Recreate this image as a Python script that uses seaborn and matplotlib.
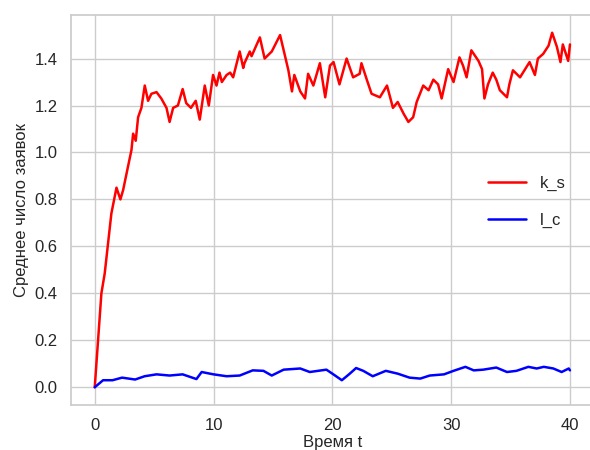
import matplotlib
matplotlib.use("Agg")
import matplotlib.pyplot as plt
import seaborn as sns
import pandas as pd

t_ks = [0, 0.56, 0.84, 1.4, 1.83, 2.16, 2.39, 2.8, 3.09, 3.23, 3.45, 3.65, 3.93, 4.21, 4.49, 4.77,
        5.2, 5.6, 6.04, 6.3, 6.6, 7.0, 7.4, 7.7, 8.1, 8.5, 8.84, 9.26, 9.6, 9.96, 10.25, 10.5,
        10.7, 11.1, 11.4, 11.65, 12.2, 12.5, 12.6, 13.05, 13.2, 13.9, 14.3, 14.9, 15.6, 16.3,
        16.6, 16.8, 17.3, 17.7, 17.96, 18.4, 18.95, 19.4, 19.8, 20.1, 20.6, 21.2, 21.75, 22.3,
        22.45, 22.9, 23.3, 24.0, 24.6, 25.1, 25.5, 26.0, 26.4, 26.8, 27.1, 27.65, 28.1, 28.5,
        28.9, 29.2, 29.75, 30.2, 30.7, 31.0, 31.3, 31.7, 32.3, 32.6, 32.8, 33.1, 33.5, 33.8,
        34.1, 34.7, 34.9, 35.2, 35.8, 36.6, 37.05, 37.3, 37.75, 38.2, 38.5, 38.9, 39.2, 39.4,
        39.85, 40.0]
k_s = [0, 0.40, 0.485, 0.74, 0.85, 0.80, 0.84, 0.94, 1.01, 1.08, 1.05, 1.15, 1.19, 1.285, 1.22,
       1.25, 1.257, 1.23, 1.19, 1.13, 1.19, 1.20, 1.27, 1.21, 1.19, 1.22, 1.14, 1.285, 1.20, 1.33,
       1.285, 1.34, 1.30, 1.33, 1.34, 1.32, 1.43, 1.36, 1.38, 1.43, 1.41, 1.49, 1.40, 1.43, 1.50,
       1.35, 1.26, 1.33, 1.26, 1.23, 1.335, 1.285, 1.38, 1.235, 1.37, 1.385, 1.29, 1.40, 1.32,
       1.335, 1.38, 1.31, 1.25, 1.235, 1.285, 1.19, 1.215, 1.165, 1.13, 1.15, 1.215, 1.285, 1.265,
       1.31, 1.29, 1.23, 1.355, 1.30, 1.405, 1.37, 1.32, 1.435, 1.39, 1.355, 1.23, 1.29, 1.34,
       1.31, 1.265, 1.235, 1.29, 1.35, 1.32, 1.385, 1.33, 1.40, 1.42, 1.455, 1.51, 1.45, 1.385,
       1.46, 1.39, 1.46]

t_lc = [0, 0.7, 1.5, 2.3, 3.4, 4.2, 5.2, 6.3, 7.4, 8.56, 9.0, 10.0, 11.1, 12.2, 13.3, 14.2, 14.9,
        15.9, 17.3, 18.1, 19.5, 20.0, 20.8, 21.4, 22.0, 22.6, 23.4, 24.5, 25.5, 26.5, 27.4, 28.2,
        29.4, 30.2, 31.2, 31.9, 32.7, 33.8, 34.7, 35.5, 36.5, 37.2, 37.8, 38.6, 39.3, 39.9, 40.0]
l_c = [0, 0.03, 0.03, 0.041, 0.033, 0.047, 0.055, 0.05, 0.055, 0.035, 0.065, 0.055, 0.047, 0.05,
       0.072, 0.07, 0.05, 0.075, 0.08, 0.065, 0.075, 0.058, 0.03, 0.055, 0.082, 0.07, 0.047, 0.07,
       0.058, 0.041, 0.037, 0.05, 0.055, 0.07, 0.087, 0.072, 0.075, 0.084, 0.065, 0.07, 0.087,
       0.08, 0.087, 0.08, 0.065, 0.08, 0.072]

sns.set_theme(style="whitegrid")
plt.rcParams['font.family'] = ['Liberation Sans', 'DejaVu Sans']

fig = plt.figure(figsize=(5.9, 4.5), dpi=100)
ax = fig.add_axes([0.1203, 0.1, 0.886, 0.8667])

df_ks = pd.DataFrame({"t": t_ks, "v": k_s})
df_lc = pd.DataFrame({"t": t_lc, "v": l_c})
sns.lineplot(data=df_ks, x="t", y="v", ax=ax, color="red", label="k_s", sort=False,
             estimator=None, linewidth=1.8)
sns.lineplot(data=df_lc, x="t", y="v", ax=ax, color="blue", label="l_c", sort=False,
             estimator=None, linewidth=1.8)

ax.set_xticks([0, 10, 20, 30, 40])
ax.set_yticks([0.0, 0.2, 0.4, 0.6, 0.8, 1.0, 1.2, 1.4])
ax.set_xlabel("Время t", fontsize=12, labelpad=1)
ax.set_ylabel("Среднее число заявок", fontsize=12)
ax.tick_params(labelsize=12)
ax.legend(loc="center right", frameon=False, fontsize=12, bbox_to_anchor=(0.975, 0.52),
          labelspacing=1.3, handlelength=2.3)

fig.savefig("out.png", dpi=100)
